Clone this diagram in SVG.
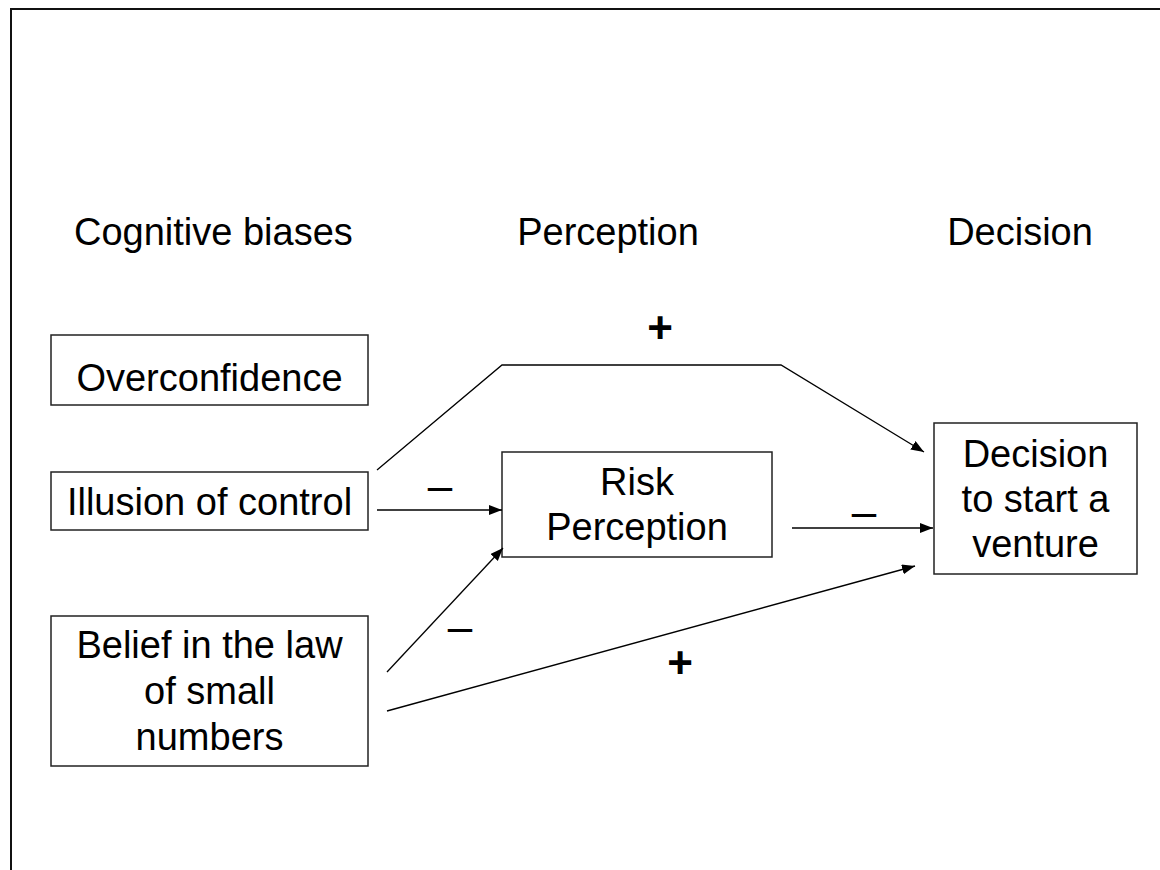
<svg xmlns="http://www.w3.org/2000/svg" width="1160" height="870" viewBox="0 0 1160 870">
<style>
text{font-family:"Liberation Sans",Arial,sans-serif;font-size:38px;fill:#000}
.c{text-anchor:middle}
.sign{font-size:44px;text-anchor:middle}
.plus{font-weight:bold}
.box{fill:#fff;stroke:#222;stroke-width:1.5}
.conn{fill:none;stroke:#000;stroke-width:1.3}
</style>
<defs>
<marker id="ah" markerUnits="userSpaceOnUse" markerWidth="14" markerHeight="11" refX="13" refY="5" orient="auto">
<path d="M0,0 L13,5 L0,10 Z" fill="#000"/>
</marker>
</defs>
<rect x="0" y="0" width="1160" height="870" fill="#fff"/>
<rect x="11" y="9" width="1170" height="880" fill="none" stroke="#111" stroke-width="2"/>
<g id="headers">
<text x="74" y="245">Cognitive biases</text>
<text class="c" x="608" y="245">Perception</text>
<text class="c" x="1020" y="245">Decision</text>
</g>
<g id="overconfidence">
<rect class="box" x="51" y="335" width="317" height="70"/>
<text class="c" x="209.5" y="391">Overconfidence</text>
</g>
<g id="illusion">
<rect class="box" x="51" y="472" width="317" height="58"/>
<text class="c" x="209.5" y="515">Illusion of control</text>
</g>
<g id="belief">
<rect class="box" x="51" y="616" width="317" height="150"/>
<text class="c" x="209.5" y="658">Belief in the law</text>
<text class="c" x="209.5" y="704">of small</text>
<text class="c" x="209.5" y="750">numbers</text>
</g>
<g id="risk">
<rect class="box" x="502" y="452" width="270" height="105"/>
<text class="c" x="637" y="495">Risk</text>
<text class="c" x="637" y="540">Perception</text>
</g>
<g id="decision">
<rect class="box" x="934" y="423" width="203" height="151"/>
<text class="c" x="1035.5" y="467">Decision</text>
<text class="c" x="1035.5" y="512">to start a</text>
<text class="c" x="1035.5" y="557">venture</text>
</g>
<g id="connectors">
<polyline class="conn" points="377,470 502,365 781,365 924,452" marker-end="url(#ah)"/>
<line class="conn" x1="377" y1="510" x2="502" y2="510" marker-end="url(#ah)"/>
<line class="conn" x1="792" y1="528" x2="933" y2="528" marker-end="url(#ah)"/>
<line class="conn" x1="387" y1="672" x2="503" y2="548" marker-end="url(#ah)"/>
<line class="conn" x1="387" y1="711" x2="915" y2="566" marker-end="url(#ah)"/>
</g>
<g id="labels">
<text class="sign plus" x="660" y="343">+</text>
<text class="sign" x="440" y="501">–</text>
<text class="sign" x="864" y="527">–</text>
<text class="sign" x="460" y="642">–</text>
<text class="sign plus" x="680" y="678">+</text>
</g>
</svg>
